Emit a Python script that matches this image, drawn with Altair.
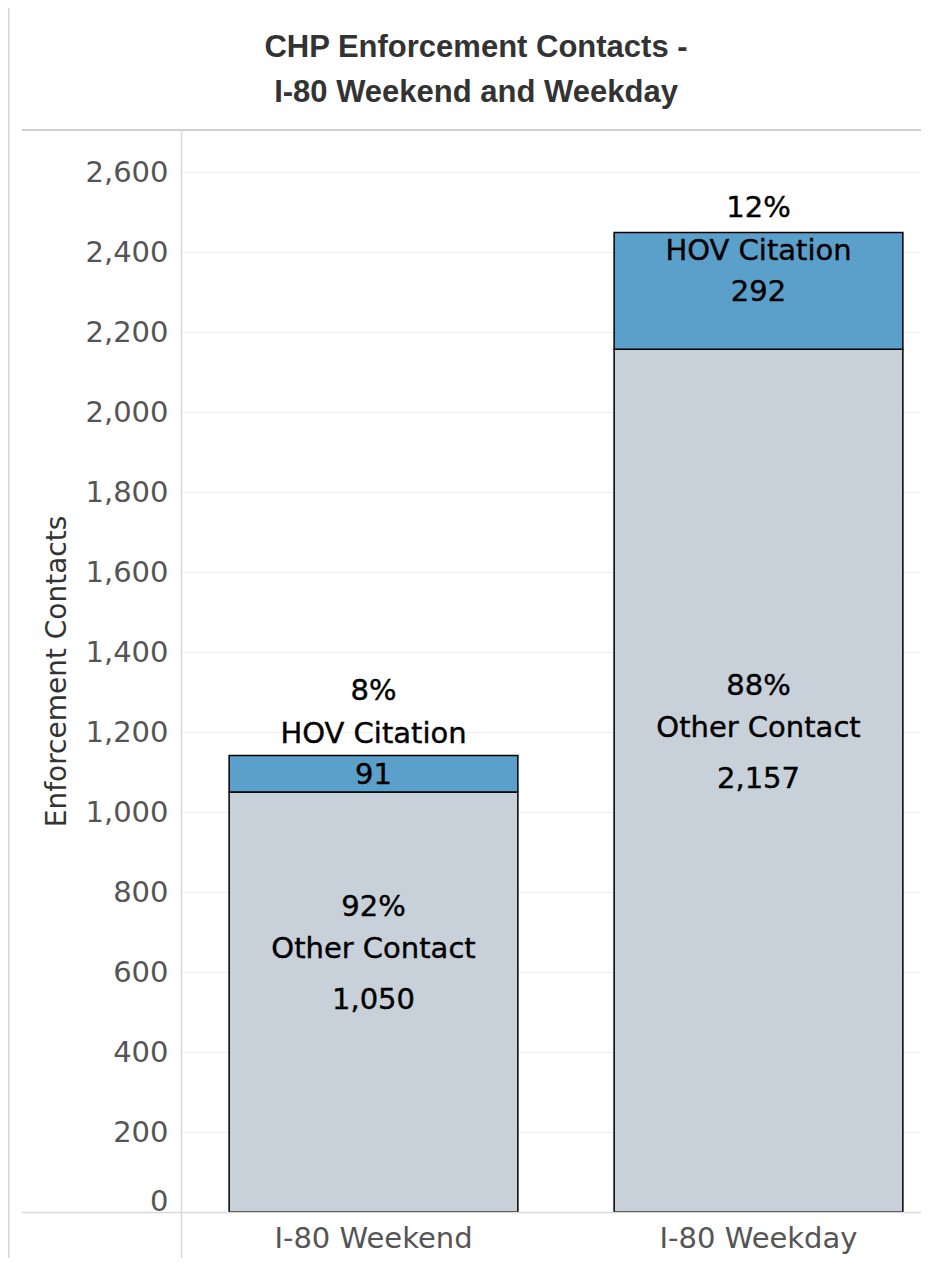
import altair as alt
import pandas as pd

routes = ["I-80 Weekend", "I-80 Weekend", "I-80 Weekday", "I-80 Weekday"]
segments = ["Other Contact", "HOV Citation", "Other Contact", "HOV Citation"]
values = [1050, 91, 2157, 292]
seg_order = [0, 1, 0, 1]
route_order = ["I-80 Weekend", "I-80 Weekday"]
y_ticks = [0, 200, 400, 600, 800, 1000, 1200, 1400, 1600, 1800, 2000, 2200, 2400, 2600]
title_lines = ["CHP Enforcement Contacts -", "I-80 Weekend and Weekday"]

df = pd.DataFrame({"route": routes, "segment": segments, "value": values, "ord": seg_order})

FONT = "DejaVu Sans"
W, H = 740, 1082

base = alt.Chart(df).transform_stack(
    stack="value", groupby=["route"], as_=["v0", "v1"], sort=[alt.SortField("ord")]
).transform_joinaggregate(
    total="sum(value)", groupby=["route"]
).transform_calculate(
    mid="(datum.v0 + datum.v1) / 2",
    pct="format(datum.value / datum.total, '.0%')",
    vlab="format(datum.value, ',d')",
)

x_enc = alt.X(
    "route:N",
    sort=route_order,
    scale=alt.Scale(range=[0, 770], paddingInner=0.25, paddingOuter=0.125),
    axis=alt.Axis(
        title=None, domain=False, ticks=False, labelFont=FONT, labelFontSize=29,
        labelColor="#555555", labelPadding=12, labelAngle=0, labelLimit=0,
    ),
)
y_scale = alt.Scale(domain=[0, 2705], nice=False)

bars = base.mark_bar(stroke="black", strokeWidth=1.5).encode(
    x=x_enc,
    y=alt.Y(
        "v0:Q",
        scale=y_scale,
        axis=alt.Axis(
            values=y_ticks, format=",d", domain=False, ticks=False, grid=True,
            gridColor="#eeeeee", gridWidth=1, labelFont=FONT, labelFontSize=29,
            labelColor="#555555", labelPadding=13, labelFlush=True, labelFlushOffset=4,
            title="Enforcement Contacts", titleFont=FONT, titleFontSize=28,
            titleFontWeight="normal", titleColor="#333333", titleX=-124, titleY=H / 2,
            titleAngle=-90, titleBaseline="middle", titleAlign="center",
        ),
    ),
    y2="v1:Q",
    color=alt.Color(
        "segment:N",
        scale=alt.Scale(domain=["Other Contact", "HOV Citation"], range=["#c8d0da", "#5ba0ca"]),
        legend=None,
    ),
)


def label_layer(seg, field, dy):
    return base.transform_filter(alt.datum.segment == seg).mark_text(
        font=FONT, fontSize=29, color="black", stroke="black", strokeWidth=0.4,
        baseline="middle", align="center", dy=dy
    ).encode(
        x=alt.X("route:N", sort=route_order),
        y=alt.Y("mid:Q", scale=y_scale),
        text=alt.Text(field),
    )


labels = [
    label_layer("Other Contact", "vlab:N", -2),
    label_layer("Other Contact", "segment:N", -53),
    label_layer("Other Contact", "pct:N", -95),
    label_layer("HOV Citation", "vlab:N", 1),
    label_layer("HOV Citation", "segment:N", -40),
    label_layer("HOV Citation", "pct:N", -83),
]

one = alt.Data(values=[{"k": 1}])


def rule(x, x2, y, y2, color, width):
    return alt.Chart(one).mark_rule(color=color, strokeWidth=width).encode(
        x=alt.value(x), x2=alt.value(x2), y=alt.value(y), y2=alt.value(y2)
    )


def title_text(i, y):
    return alt.Chart(alt.Data(values=[{"t": title_lines[i]}])).mark_text(
        font="Liberation Sans", fontSize=31, fontWeight="bold", color="#333333",
        align="center", baseline="middle",
    ).encode(x=alt.value(295), y=alt.value(y), text="t:N")


frame = [
    rule(-172.5, -172.5, -124, 1140, "#d3d8de", 2),
    rule(-173, W + 10, -124, -124, "#d3d8de", 2),
    rule(-159, W + 10, 0, 0, "#cfcfcf", 2),
    rule(-159, W + 10, H + 0.5, H + 0.5, "#d9d9d9", 1.5),
    rule(0.5, 0.5, 0, 1140, "#d9d9d9", 1.5),
]

titles = [title_text(0, -82), title_text(1, -37)]

chart = alt.layer(bars, *labels, *frame, *titles).properties(
    width=W,
    height=H,
    padding={"left": 173, "top": 122, "right": 0, "bottom": 46},
    autosize=alt.AutoSizeParams(type="none"),
).configure_view(stroke=None)

chart.save("out.html", embed_options={"renderer": "svg", "actions": False})
